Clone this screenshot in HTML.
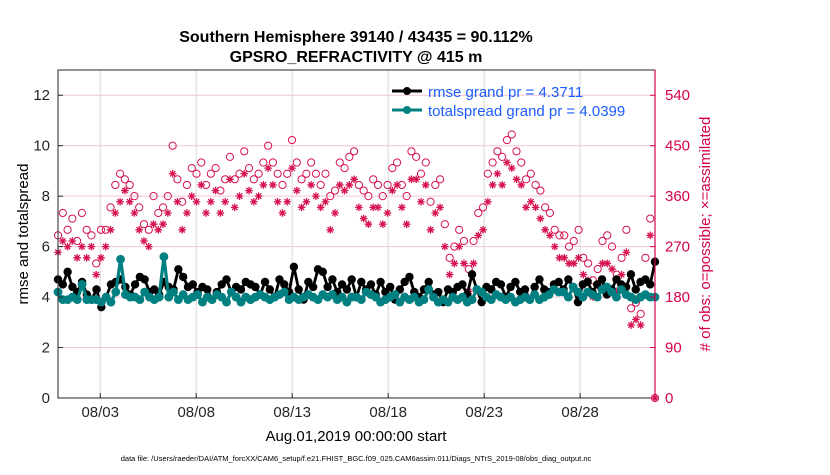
<!DOCTYPE html>
<html><head><meta charset="utf-8"><style>
body{margin:0;background:#fff;font-family:"Liberation Sans",sans-serif}
svg text{font-family:"Liberation Sans",sans-serif}
</style></head><body>
<svg id="chart" width="830" height="470" xmlns="http://www.w3.org/2000/svg">
<rect width="830" height="470" fill="#fff"/>
<g id="grid"></g><g id="marks"></g><g id="axes"></g>
<text x="356" y="42" text-anchor="middle" font-size="16" font-weight="bold">Southern Hemisphere 39140 / 43435 = 90.112%</text>
<text x="356" y="62" text-anchor="middle" font-size="16" font-weight="bold">GPSRO_REFRACTIVITY @ 415 m</text>
<text transform="translate(28,234) rotate(-90)" text-anchor="middle" font-size="15">rmse and totalspread</text>
<text transform="translate(710,234) rotate(-90)" text-anchor="middle" font-size="15" fill="#d6004f"># of obs: o=possible; ×=assimilated</text>
<text x="356" y="441" text-anchor="middle" font-size="15">Aug.01,2019 00:00:00 start</text>
<text x="356" y="461" text-anchor="middle" font-size="7.5">data file: /Users/raeder/DAI/ATM_forcXX/CAM6_setup/f.e21.FHIST_BGC.f09_025.CAM6assim.011/Diags_NTrS_2019-08/obs_diag_output.nc</text>
<g>
<line x1="392" y1="91" x2="422" y2="91" stroke="#000" stroke-width="3"/><circle cx="407" cy="91" r="4" fill="#000"/>
<text x="428" y="97" font-size="15" fill="#1a5cff">rmse grand pr = 4.3711</text>
<line x1="392" y1="110" x2="422" y2="110" stroke="#008080" stroke-width="3"/><circle cx="407" cy="110" r="4" fill="#008080"/>
<text x="428" y="116" font-size="15" fill="#1a5cff">totalspread grand pr = 4.0399</text>
</g>
</svg>
<script>
const possible=[290,330,300,320,280,330,300,290,240,300,
300,340,380,400,390,380,360,340,310,300,
360,330,340,360,450,390,350,380,410,400,
420,380,400,410,370,390,430,390,400,440,
410,390,400,420,450,420,400,380,400,460,
420,390,400,420,400,380,400,360,370,420,
410,430,440,380,370,360,390,380,360,380,
410,420,380,360,440,430,400,420,350,380,
390,310,250,270,300,280,230,280,330,340,
400,420,440,430,460,470,440,420,390,400,
380,370,340,330,300,290,290,270,280,300,
250,240,210,230,280,290,270,220,250,300,
160,170,150,250,320,0];
const assimilated=[260,280,270,280,250,270,250,270,220,250,
270,300,330,350,370,350,330,300,280,270,
310,300,310,330,400,350,300,330,360,350,
380,330,350,370,330,350,390,340,360,400,
370,350,360,380,410,380,350,330,350,410,
370,340,350,380,360,340,350,300,330,380,
370,380,390,340,320,310,340,340,310,330,
370,380,340,310,390,390,350,380,300,330,
340,270,220,240,270,240,190,240,290,300,
350,380,400,380,420,410,390,380,340,350,
340,320,300,290,270,250,250,240,240,250,
220,210,180,200,240,240,230,190,220,260,
130,140,130,210,290,0];
const rmse=[4.7,4.5,5.0,4.4,4.2,4.6,4.1,3.9,4.3,3.6,
4.0,4.5,4.6,4.7,4.4,4.1,4.5,4.8,4.7,4.2,
4.3,4.1,4.6,4.4,4.3,5.1,4.8,4.4,4.5,4.2,
4.4,4.3,3.9,4.2,4.5,4.7,4.2,4.4,4.3,4.6,
4.5,4.4,4.1,4.6,4.3,4.0,4.7,4.5,4.2,5.2,
4.3,3.9,4.6,4.4,5.1,5.0,4.4,4.7,4.2,4.5,
4.3,4.7,4.0,4.6,4.3,4.5,4.1,4.6,4.2,4.4,
3.9,4.3,4.6,4.8,4.2,4.0,4.3,4.6,4.1,4.2,
3.8,4.3,4.2,4.4,4.5,4.1,4.9,4.3,3.8,4.4,
4.3,4.6,4.5,4.0,4.4,4.6,4.2,4.3,3.9,4.4,
4.7,4.3,4.2,4.5,4.6,4.3,4.7,4.4,3.8,4.5,
4.6,4.2,4.5,4.7,4.1,4.3,4.7,4.5,4.4,4.9,
4.3,4.6,4.7,4.5,5.4];
const spread=[4.2,3.9,3.9,4.0,3.9,4.5,3.9,3.9,3.9,3.8,
4.0,3.8,4.2,5.5,4.1,4.0,4.0,3.9,4.2,4.0,
3.9,4.0,5.6,4.0,4.2,3.9,4.1,3.9,4.0,4.1,
3.8,4.0,3.9,4.1,4.0,3.8,4.2,4.0,3.8,4.0,
3.9,4.0,4.1,4.0,3.9,4.0,4.1,4.2,3.9,4.0,
3.9,4.0,4.1,4.0,3.9,4.1,4.0,4.1,3.9,4.0,
3.8,4.0,4.0,3.9,4.2,4.1,4.0,3.8,3.9,4.0,
4.1,3.8,4.0,3.9,4.0,3.8,3.9,4.3,4.0,3.8,
3.9,3.8,4.0,3.9,4.0,3.8,3.9,4.3,4.2,4.0,
3.9,4.1,4.0,3.9,4.0,3.8,3.9,4.0,3.9,4.1,
3.9,4.0,4.1,4.3,4.2,4.2,4.0,4.4,4.2,4.0,
4.2,4.1,4.0,4.3,4.4,4.2,4.0,4.3,4.1,4.0,
3.9,4.0,4.1,4.0,4.0];
const xTickLabels=["08/03","08/08","08/13","08/18","08/23","08/28"];
const xTickDays=[2,7,12,17,22,27];
const yTicks=[0,2,4,6,8,10,12];
const rTicks=[0,90,180,270,360,450,540];

const L=58,R=655,T=70,B=398,NS="http://www.w3.org/2000/svg";
const d0=-0.2,d1=30.9;
const xd=d=>L+(d-d0)/(d1-d0)*(R-L);
const yl=v=>B-v/13*(B-T);
const yr=v=>B-v/585*(B-T);
const xi=(i,n)=>xd(d0+i*(d1-d0)/(n-1));
function mk(tag,attrs,parent){const e=document.createElementNS(NS,tag);for(const k in attrs)e.setAttribute(k,attrs[k]);document.getElementById(parent).appendChild(e);return e;}
xTickDays.forEach((d,i)=>{const e=mk('line',{x1:xd(d),x2:xd(d),y1:T,y2:B,stroke:'#d9d9d9'},'grid');

});
rTicks.forEach(v=>{if(v===0)return;const e=mk('line',{x1:L,x2:R,y1:yr(v),y2:yr(v),stroke:'#f2c6d4'},'grid');

});
const np=possible.length;
possible.forEach((v,i)=>{const e=mk('circle',{cx:xi(i,np),cy:yr(v),r:3.6,fill:'none',stroke:'#d6134f','stroke-width':1},'marks');

});
assimilated.forEach((v,i)=>{const x=xi(i,np),y=yr(v),s=3.8,h=2.7;
const d=`M${x-s},${y}H${x+s}M${x-h},${y-h}L${x+h},${y+h}M${x-h},${y+h}L${x+h},${y-h}M${x},${y-s}V${y+s}`;
const e=mk('path',{d:d,stroke:'#d6134f','stroke-width':1.3,fill:'none'},'marks');

});
function series(arr,color,name,w,r){const n=arr.length;const pts=arr.map((v,i)=>xi(i,n).toFixed(1)+','+yl(v).toFixed(1)).join(' ');
const p=mk('polyline',{points:pts,fill:'none',stroke:color,'stroke-width':w},'marks');


arr.forEach((v,i)=>{const c=mk('circle',{cx:xi(i,n),cy:yl(v),r:r,fill:color},'marks');

});}
series(rmse,'#000','rmse',2.8,4.2);
series(spread,'#008080','totalspread',3.2,4.4);
const fr=mk('rect',{x:L,y:T,width:R-L,height:B-T,fill:'none',stroke:'#262626'},'axes');


const ra=mk('line',{x1:R,x2:R,y1:T,y2:B,stroke:'#d6004f','stroke-width':1.2},'axes');


yTicks.forEach(v=>{mk('line',{x1:L,x2:L+5,y1:yl(v),y2:yl(v),stroke:'#262626'},'axes');
const t=mk('text',{x:L-8,y:yl(v)+5,'text-anchor':'end','font-size':15,fill:'#262626'},'axes');t.textContent=v;

});
rTicks.forEach(v=>{mk('line',{x1:R-5,x2:R,y1:yr(v),y2:yr(v),stroke:'#d6004f'},'axes');
const t=mk('text',{x:R+10,y:yr(v)+5,'font-size':15,fill:'#d6004f'},'axes');t.textContent=v;

});
xTickLabels.forEach((s,i)=>{const x=xd(xTickDays[i]);mk('line',{x1:x,x2:x,y1:B,y2:B-5,stroke:'#262626'},'axes');
const t=mk('text',{x:x,y:B+19,'text-anchor':'middle','font-size':15,fill:'#262626'},'axes');t.textContent=s;

});
</script>
</body></html>
